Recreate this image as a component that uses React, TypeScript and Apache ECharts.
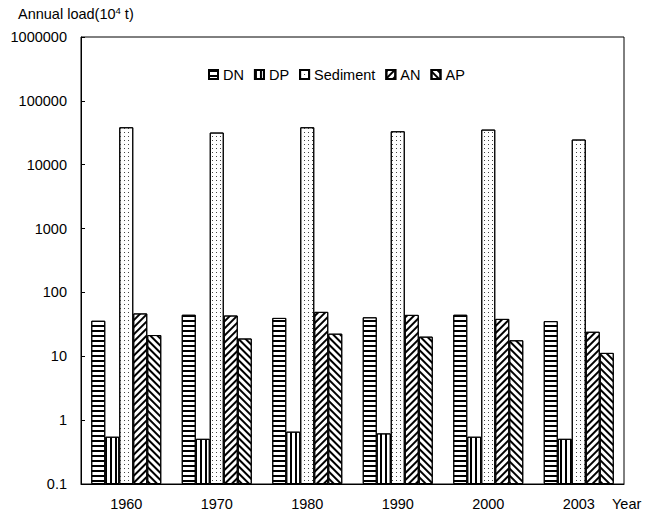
import React, { useEffect, useRef } from "react";
import * as echarts from "echarts";

const years = ["1960", "1970", "1980", "1990", "2000", "2003"];
const seriesNames = ["DN", "DP", "Sediment", "AN", "AP"];
const dnValues = [36, 44.7, 39.9, 40.8, 44.7, 35.5];
const dpValues = [0.55, 0.51, 0.66, 0.62, 0.55, 0.51];
const sedimentValues = [38600, 31900, 38600, 33400, 35500, 24800];
const anValues = [46.9, 43.5, 49.6, 44.5, 38.5, 24.2];
const apValues = [21.5, 19, 22.6, 20.3, 17.8, 11.3];
const yTicks = [0.1, 1, 10, 100, 1000, 10000, 100000, 1000000];

const FONT = "'Liberation Sans', Arial, sans-serif";

const decals: any[] = [
  { symbol: "rect", symbolSize: 1, color: "#000", backgroundColor: "#fff", dashArrayX: [1, 0], dashArrayY: [1.7, 2.3] },
  { symbol: "rect", symbolSize: 1, color: "#000", backgroundColor: "#fff", dashArrayX: [1.7, 2.6], dashArrayY: [1, 0] },
  { symbol: "rect", symbolSize: 1, color: "#444", backgroundColor: "#fff", dashArrayX: [1, 3], dashArrayY: [1, 3] },
  { symbol: "rect", symbolSize: 1, color: "#000", backgroundColor: "#fff", dashArrayX: [1, 0], dashArrayY: [2, 3], rotation: -Math.PI / 4 },
  { symbol: "rect", symbolSize: 1, color: "#000", backgroundColor: "#fff", dashArrayX: [1, 0], dashArrayY: [2, 3], rotation: Math.PI / 4 },
];

export default function App() {
  const ref = useRef<HTMLDivElement>(null);
  useEffect(() => {
    document.body.style.margin = "0";
    if (!ref.current) return;
    const chart = echarts.init(ref.current, null, { renderer: "svg" });
    const values = [dnValues, dpValues, sedimentValues, anValues, apValues];
    chart.setOption({
      animation: false,
      backgroundColor: "#fff",
      textStyle: { fontFamily: FONT, color: "#000" },
      grid: { left: 81, right: 33, top: 37, bottom: 30, show: true, borderColor: "#000", borderWidth: 1, backgroundColor: "transparent" },
      legend: {
        left: 203,
        top: 62,
        itemWidth: 9,
        itemHeight: 9,
        itemGap: 10,
        icon: "rect",
        textStyle: { fontFamily: FONT, fontSize: 14.5, color: "#000" },
        data: seriesNames,
      },
      xAxis: {
        type: "category",
        data: years,
        axisLine: { lineStyle: { color: "#000", width: 1 } },
        axisTick: { inside: true, length: 4, lineStyle: { color: "#000" } },
        axisLabel: { fontFamily: FONT, fontSize: 14.5, color: "#000", margin: 12 },
      },
      yAxis: {
        type: "log",
        logBase: 10,
        min: yTicks[0],
        max: yTicks[yTicks.length - 1],
        startValue: yTicks[0],
        axisLine: { show: true, lineStyle: { color: "#000", width: 1 } },
        axisTick: { show: true, inside: true, length: 4, lineStyle: { color: "#000" } },
        splitLine: { show: false },
        minorTick: { show: false },
        axisLabel: {
          fontFamily: FONT,
          fontSize: 14.5,
          color: "#000",
          margin: 14,
          formatter: (v: number) => {
            const hit = yTicks.find((t) => Math.abs(Math.log10(t) - Math.log10(v)) < 1e-6);
            return hit !== undefined ? String(hit) : "";
          },
        },
      },
      series: seriesNames.map((name, i) => ({
        name,
        type: "bar",
        data: values[i],
        barWidth: 14,
        barGap: "0%",
        itemStyle: { color: "#fff", borderColor: "#000", borderWidth: 1, decal: decals[i] },
      })),
      graphic: [
        {
          type: "text",
          left: 18,
          top: 5,
          style: {
            text: "{a|Annual load(10}{s|4}{a| t)}",
            rich: {
              a: { fontFamily: FONT, fontSize: 14.5, lineHeight: 18, fill: "#000" },
              s: { fontFamily: FONT, fontSize: 9.5, lineHeight: 12, verticalAlign: "top", fill: "#000" },
            },
          },
        },
        {
          type: "text",
          left: 612,
          top: 496,
          style: { text: "Year", fontFamily: FONT, fontSize: 14.5, fill: "#000" },
        },
      ],
    });
    return () => chart.dispose();
  }, []);
  return <div ref={ref} style={{ width: 657, height: 514, position: "absolute", left: 0, top: 0 }} />;
}
